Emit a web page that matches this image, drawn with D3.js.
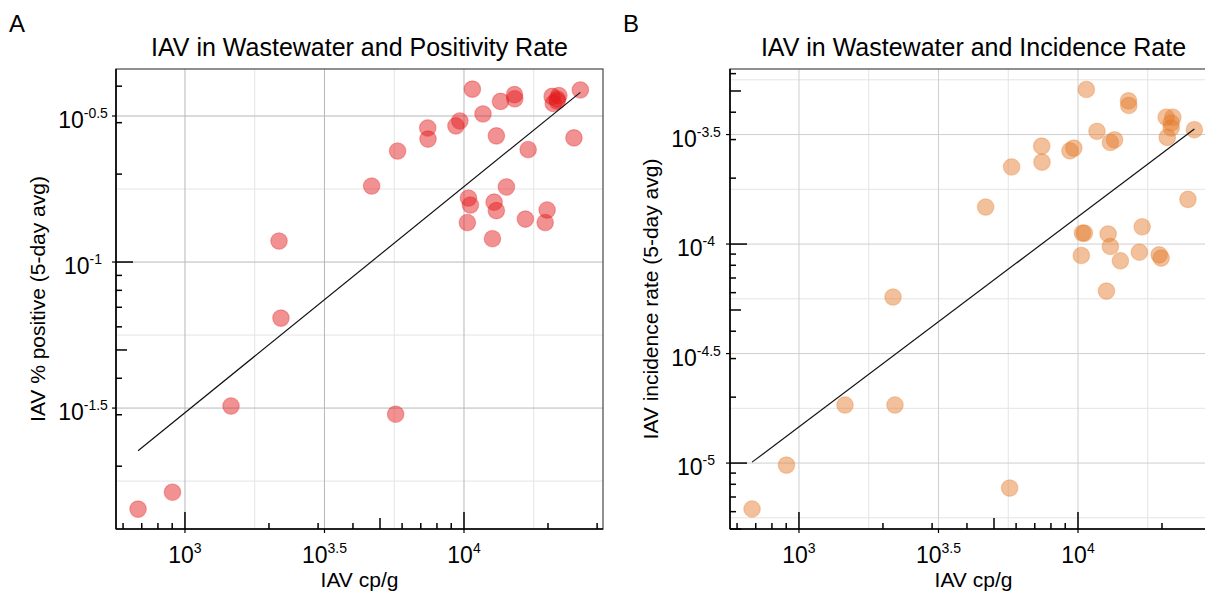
<!DOCTYPE html>
<html>
<head>
<meta charset="utf-8">
<script src="https://cdn.jsdelivr.net/npm/d3@7"></script>
<style>
  html, body { margin: 0; padding: 0; background: #fff; }
  svg { display: block; font-family: "Liberation Sans", Arial, Helvetica, sans-serif; }
</style>
</head>
<body>
<svg id="chart" width="1205" height="592"></svg>
<script>
// ---------------- DATA ----------------
const wastewater = [679, 902, 1462, 2173, 2208, 4667, 5689, 5781, 7413, 7430,
  9354, 9661, 10280, 10375, 10544, 10715, 11695, 12647, 12823, 13062,
  13062, 13521, 14191, 15171, 15205, 16596, 16982, 19543, 19861, 20701,
  21878, 21577, 21577, 20893, 24774, 26122];
const positivity = [0.01426, 0.01629, 0.03214, 0.1180, 0.06427, 0.1820, 0.03013, 0.2399, 0.2877, 0.2636,
  0.2924, 0.3041, 0.1365, 0.1656, 0.1567, 0.3908, 0.3214, 0.1202, 0.1603, 0.1500,
  0.2704, 0.3548, 0.1807, 0.3741, 0.3622, 0.1403, 0.2427, 0.1365, 0.1507, 0.3690,
  0.3715, 0.3614, 0.3556, 0.3491, 0.2661, 0.3882];
const incidence = [6.17e-6, 9.79e-6, 1.841e-5, 5.73e-5, 1.841e-5, 1.476e-4, 7.69e-6, 2.249e-4, 2.799e-4, 2.366e-4,
  2.667e-4, 2.742e-4, 8.87e-5, 1.122e-4, 1.122e-4, 5.08e-4, 3.273e-4, 6.10e-5, 1.112e-4, 9.75e-5,
  2.911e-4, 2.992e-4, 8.39e-5, 4.508e-4, 4.295e-4, 9.18e-5, 1.199e-4, 8.93e-5, 8.63e-5, 3.793e-4,
  3.793e-4, 3.573e-4, 3.388e-4, 3.069e-4, 1.600e-4, 3.327e-4];

const fitX = [679, 26122];
const fitPositivity = [0.0226, 0.381];
const fitIncidence = [1.01e-5, 3.35e-4];

const xDomain = [566, 31490];
const yDomainA = [0.01219, 0.458];
const yDomainB = [5.0e-6, 6.3e-4];

const xTickValues = [1000, 3162.28, 10000];
const xTickExps = ["3", "3.5", "4"];
const yTickValuesA = [0.316228, 0.1, 0.0316228];
const yTickExpsA = ["-0.5", "-1", "-1.5"];
const yTickValuesB = [3.16228e-4, 1e-4, 3.16228e-5, 1e-5];
const yTickExpsB = ["-3.5", "-4", "-4.5", "-5"];

const gridXMajor = [1000, 3162.28, 10000, 31622.8];
const gridXMinor = [562.34, 1778.28, 5623.41, 17782.8];
const gridYMajorA = [0.316228, 0.1, 0.0316228];
const gridYMinorA = [0.562341, 0.177828, 0.0562341, 0.0177828];
const gridYMajorB = [3.16228e-4, 1e-4, 3.16228e-5, 1e-5];
const gridYMinorB = [5.62341e-4, 1.77828e-4, 5.62341e-5, 1.77828e-5, 5.62341e-6];

const titles = ["IAV in Wastewater and Positivity Rate", "IAV in Wastewater and Incidence Rate"];
const panelLetters = ["A", "B"];
const xLabel = "IAV cp/g";
const yLabels = ["IAV % positive (5-day avg)", "IAV incidence rate (5-day avg)"];

// ---------------- DRAW ----------------
const svg = d3.select("#chart");

function drawPanel(cfg) {
  const g = svg.append("g");
  const x = d3.scaleLog().domain(xDomain).range([cfg.left, cfg.left + 487]);
  const y = d3.scaleLog().domain(cfg.yDomain).range([529, 69]);
  const [x0, x1] = x.range();
  const [yb, yt] = y.range();

  const clipId = "clip" + cfg.letter;
  svg.append("clipPath").attr("id", clipId).append("rect")
    .attr("x", x0).attr("y", yt).attr("width", x1 - x0).attr("height", yb - yt);

  const grid = g.append("g").attr("clip-path", `url(#${clipId})`);
  grid.selectAll(".gxm").data(gridXMinor).join("line")
    .attr("x1", d => x(d)).attr("x2", d => x(d)).attr("y1", yt).attr("y2", yb)
    .attr("stroke", "#e4e4e4").attr("stroke-width", 1);
  grid.selectAll(".gym").data(cfg.gridMinor).join("line")
    .attr("y1", d => y(d)).attr("y2", d => y(d)).attr("x1", x0).attr("x2", x1)
    .attr("stroke", "#e4e4e4").attr("stroke-width", 1);
  grid.selectAll(".gxM").data(gridXMajor).join("line")
    .attr("x1", d => x(d)).attr("x2", d => x(d)).attr("y1", yt).attr("y2", yb)
    .attr("stroke", cfg.majorGrid).attr("stroke-width", 1);
  grid.selectAll(".gyM").data(cfg.gridMajor).join("line")
    .attr("y1", d => y(d)).attr("y2", d => y(d)).attr("x1", x0).attr("x2", x1)
    .attr("stroke", cfg.majorGrid).attr("stroke-width", 1);

  g.append("rect").attr("x", x0).attr("y", yt).attr("width", x1 - x0).attr("height", yb - yt)
    .attr("fill", "none").attr("stroke", "#555").attr("stroke-width", 1.3);

  g.append("g").attr("clip-path", `url(#${clipId})`)
    .selectAll("circle").data(wastewater.map((w, i) => [w, cfg.yData[i]])).join("circle")
    .attr("cx", d => x(d[0])).attr("cy", d => y(d[1])).attr("r", 8.3)
    .attr("fill", cfg.color).attr("fill-opacity", 0.48)
    .attr("stroke", cfg.color).attr("stroke-opacity", 0.3).attr("stroke-width", 1.2);

  const line = d3.line().x(d => x(d[0])).y(d => y(d[1]));
  g.append("path").datum(fitX.map((v, i) => [v, cfg.fit[i]]))
    .attr("d", line).attr("fill", "none").attr("stroke", "#111").attr("stroke-width", 1.2);

  g.append("line").attr("x1", x0).attr("x2", x1).attr("y1", yb).attr("y2", yb)
    .attr("stroke", "#000").attr("stroke-width", 1.6);
  g.append("line").attr("x1", x0).attr("x2", x0).attr("y1", yt).attr("y2", yb)
    .attr("stroke", "#000").attr("stroke-width", 1.6);

  const tickLen = v => {
    const m = Math.round(v / Math.pow(10, Math.floor(Math.log10(v) + 1e-9)));
    return m === 1 ? 17 : (m === 5 ? 11 : 6);
  };

  g.selectAll(".xt").data(x.ticks().filter(v => x(v) >= x0 && x(v) <= x1)).join("line")
    .attr("x1", d => x(d)).attr("x2", d => x(d)).attr("y1", yb).attr("y2", d => yb - tickLen(d))
    .attr("stroke", "#000").attr("stroke-width", 1.5);
  g.selectAll(".yt").data(y.ticks().filter(v => y(v) >= yt - 0.5 && y(v) <= yb + 0.5)).join("line")
    .attr("y1", d => y(d)).attr("y2", d => y(d)).attr("x1", x0).attr("x2", d => x0 + tickLen(d))
    .attr("stroke", "#000").attr("stroke-width", 1.5);

  g.selectAll(".xlt").data(xTickValues).join("line")
    .attr("x1", d => x(d)).attr("x2", d => x(d)).attr("y1", yb).attr("y2", yb + 4)
    .attr("stroke", "#000").attr("stroke-width", 1.2);
  g.selectAll(".ylt").data(cfg.yTicks).join("line")
    .attr("y1", d => y(d)).attr("y2", d => y(d)).attr("x1", x0).attr("x2", x0 - 4)
    .attr("stroke", "#000").attr("stroke-width", 1.2);

  const xl = g.selectAll(".xlab").data(xTickValues).join("text")
    .attr("x", d => x(d)).attr("y", 563).attr("text-anchor", "middle")
    .attr("font-size", 23).attr("fill", "#000");
  xl.append("tspan").text("10");
  xl.append("tspan").attr("dy", -10).attr("font-size", 14).text((d, i) => xTickExps[i]);

  const yl = g.selectAll(".ylab").data(cfg.yTicks).join("text")
    .attr("x", cfg.yLabX).attr("y", d => y(d) + 12).attr("text-anchor", "middle")
    .attr("font-size", 23).attr("fill", "#000");
  yl.append("tspan").text("10");
  yl.append("tspan").attr("dy", -10).attr("font-size", 14).text((d, i) => cfg.yExps[i]);

  g.append("text").attr("x", (x0 + x1) / 2).attr("y", 587).attr("text-anchor", "middle")
    .attr("font-size", 21).text(xLabel);
  g.append("text").attr("transform", `translate(${cfg.yTitleX},${(yt + yb) / 2}) rotate(-90)`)
    .attr("text-anchor", "middle").attr("font-size", 21).text(cfg.yTitle);

  g.append("text").attr("x", (x0 + x1) / 2).attr("y", 56).attr("text-anchor", "middle")
    .attr("font-size", 25).text(cfg.title);
  g.append("text").attr("x", cfg.letterX).attr("y", 32).attr("font-size", 24).text(cfg.letter);
}

drawPanel({
  left: 116, yDomain: yDomainA, yData: positivity, fit: fitPositivity, color: "#e41a1c",
  gridMajor: gridYMajorA, gridMinor: gridYMinorA, majorGrid: "#b8b8b8",
  yTicks: yTickValuesA, yExps: yTickExpsA, yLabX: 83, yTitleX: 45,
  yTitle: yLabels[0], title: titles[0], letter: panelLetters[0], letterX: 9
});
drawPanel({
  left: 730, yDomain: yDomainB, yData: incidence, fit: fitIncidence, color: "#e37b2b",
  gridMajor: gridYMajorB, gridMinor: gridYMinorB, majorGrid: "#cfcfcf",
  yTicks: yTickValuesB, yExps: yTickExpsB, yLabX: 696, yTitleX: 658,
  yTitle: yLabels[1], title: titles[1], letter: panelLetters[1], letterX: 623
});
</script>
</body>
</html>
